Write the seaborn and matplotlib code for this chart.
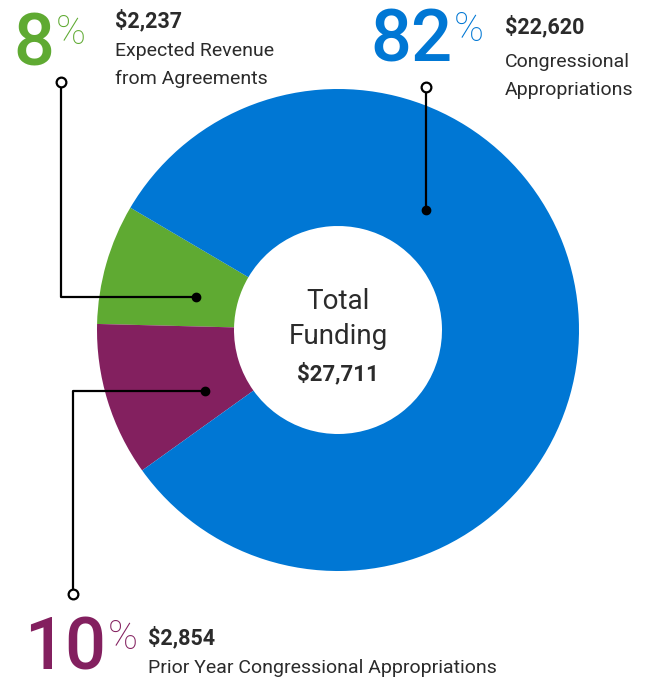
import matplotlib
matplotlib.use("Agg")
import matplotlib.pyplot as plt
import seaborn as sns

# funding breakdown (thousands)
labels = ["Expected Revenue\nfrom Agreements", "Prior Year Congressional Appropriations",
          "Congressional\nAppropriations"]
amounts = [2237, 2854, 22620]
pct_labels = ["8", "10", "82"]
colors = ["#5FAA32", "#83205F", "#0077D4"]
total = 27711

sns.set_theme(style="white")
plt.rcParams["font.family"] = ["Roboto", "DejaVu Sans"]
dark = "#2b2b2b"

fig = plt.figure(figsize=(6.52, 6.79), dpi=100)
ax = fig.add_axes([0, 0, 1, 1])

# donut, drawn in pixel-like coordinates (y axis inverted, so angles run clockwise)
cx, cy, r_out, r_in = 338, 330, 241, 104
start_deg = 149.5  # visual angle where the green slice starts
ax.pie(amounts, colors=colors, startangle=-start_deg, counterclock=False,
       center=(cx, cy), radius=r_out,
       wedgeprops=dict(width=r_out - r_in, edgecolor="none"))
ax.set_xlim(0, 652)
ax.set_ylim(679, 0)
ax.set_aspect("equal")
ax.axis("off")

# centre label
ax.text(cx, 309, "Total", ha="center", va="baseline", fontsize=20, color=dark)
ax.text(cx, 344, "Funding", ha="center", va="baseline", fontsize=20, color=dark)
ax.text(cx, 380, f"${total:,}", ha="center", va="baseline", fontsize=16,
        fontweight="bold", color=dark)

# leader lines
def leader(xs, ys):
    ax.plot(xs, ys, color="black", lw=1.6, solid_capstyle="butt", zorder=5)
    ax.plot(xs[0], ys[0], "o", ms=7, mfc="white", mec="black", mew=1.6, zorder=6)
    ax.plot(xs[-1], ys[-1], "o", ms=6, color="black", zorder=6)

leader([61, 61, 196], [82, 297, 297])
leader([426, 426], [87, 210])
leader([73, 73, 205], [594, 391, 391])

# callouts: (big x, big baseline, text x, amount baseline, last label baseline)
callouts = [
    (13, 65, 115, 27, 84),
    (24, 670, 148, 644, 673),
    (370, 62, 505, 33, 95),
]
for (bx, by, tx, ay, ly), pct, amt, lab, col in zip(callouts, pct_labels, amounts,
                                                    labels, colors):
    big = ax.text(bx, by, pct, ha="left", va="baseline", fontsize=52, color=col,
                  fontweight="medium")
    ax.annotate("%", xy=(1, 1), xycoords=big, xytext=(1, -2),
                textcoords="offset points", ha="left", va="top", fontsize=29,
                color=col, fontweight="light")
    ax.text(tx, ay, f"${amt:,}", ha="left", va="baseline", fontsize=15.5,
            fontweight="bold", color=dark)
    ax.text(tx, ly, lab, ha="left", va="baseline", fontsize=14, color=dark,
            linespacing=1.72)

fig.savefig("out.png", dpi=100)
